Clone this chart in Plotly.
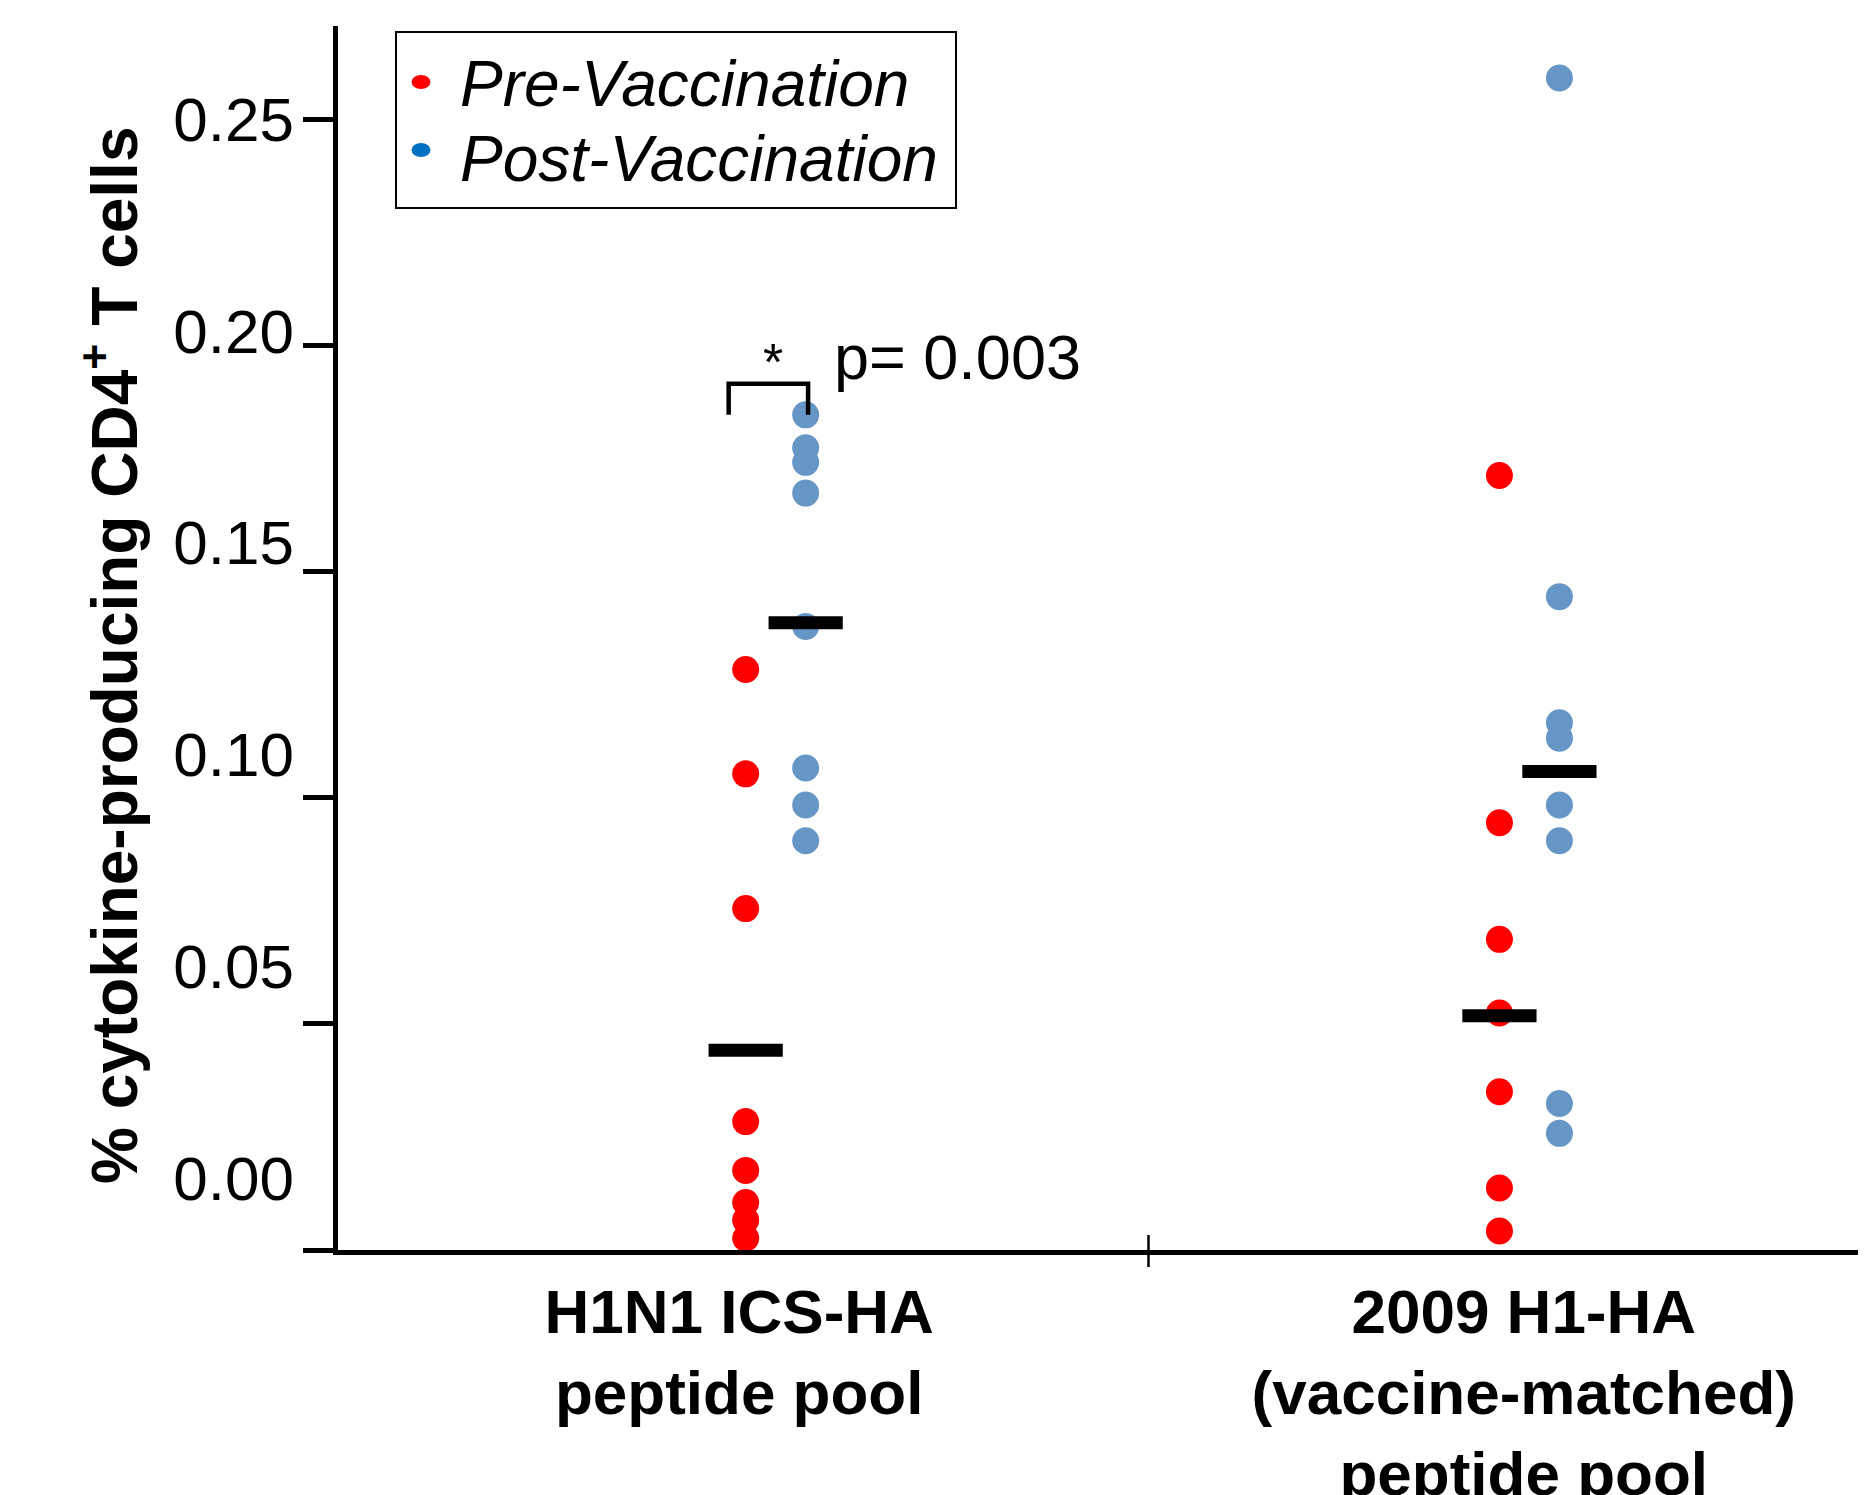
import plotly.graph_objects as go

# ---------------- data ----------------
categories = ["H1N1 ICS-HA<br>peptide pool",
              "2009 H1-HA<br>(vaccine-matched)<br>peptide pool"]
series_names = ["Pre-Vaccination", "Post-Vaccination"]

h1n1_pre = [0.1284, 0.1053, 0.0755, 0.0284, 0.0176, 0.0105, 0.0066, 0.0026]
h1n1_post = [0.1847, 0.1774, 0.1742, 0.1674, 0.1379, 0.1066, 0.0984, 0.0905]
h2009_pre = [0.1713, 0.0945, 0.0687, 0.0524, 0.0350, 0.0137, 0.0042]
h2009_post = [0.2592, 0.1445, 0.1166, 0.1132, 0.0984, 0.0905, 0.0324, 0.0258]

pre_centre = [0.0442, 0.0518]    # horizontal bars, pre
post_centre = [0.1387, 0.1058]   # horizontal bars, post

y_ticks = [0.00, 0.05, 0.10, 0.15, 0.20, 0.25]
p_value_text = "p= 0.003"

# ---------------- layout geometry ----------------
W, H = 1866, 1495
BODY = 8                      # default page margin around the plot div
ML, MR, MT, MB = 330, 0, 18, 253
PW, PH = W - ML - MR, H - MT - MB

def px_x(px):                 # page pixel -> paper
    return (px - BODY - ML) / PW

def px_y(py):
    return (H - MB - (py - BODY)) / PH

group_x = [0.540, 1.470]
label_x = [0.495, 1.463]
offset = 0.037

RED = "#FF0000"
BLUE = "#6596C6"
LEG_BLUE = "#0070C0"
FONT = "Liberation Sans, Arial, sans-serif"

fig = go.Figure()

pre_groups = [h1n1_pre, h2009_pre]
post_groups = [h1n1_post, h2009_post]

for gi in range(2):
    xp = group_x[gi] - offset
    xq = group_x[gi] + offset
    fig.add_trace(go.Scatter(
        x=[xp] * len(pre_groups[gi]), y=pre_groups[gi], mode="markers",
        marker=dict(color=RED, size=27, line=dict(width=0)),
        name=series_names[0], showlegend=False, cliponaxis=False))
    fig.add_trace(go.Scatter(
        x=[xq] * len(post_groups[gi]), y=post_groups[gi], mode="markers",
        marker=dict(color=BLUE, size=27, line=dict(width=0)),
        name=series_names[1], showlegend=False, cliponaxis=False))
    # central tendency bars
    fig.add_trace(go.Scatter(
        x=[xp, xq], y=[pre_centre[gi], post_centre[gi]], mode="markers",
        marker=dict(symbol="line-ew", size=53, color="black",
                    line=dict(width=13, color="black")),
        showlegend=False, cliponaxis=False, hoverinfo="skip"))

# significance bracket (derived from the H1N1 groups)
top = max(h1n1_post)
bx0 = group_x[0] - offset - 0.021
bx1 = group_x[0] + offset + 0.003
fig.add_trace(go.Scatter(
    x=[bx0, bx0, bx1, bx1], y=[top, top + 0.0069, top + 0.0069, top],
    mode="lines", line=dict(color="black", width=4.5),
    showlegend=False, hoverinfo="skip", cliponaxis=False))

# dummy trace to hold the label axis
fig.add_trace(go.Scatter(x=[None], y=[None], yaxis="y2", showlegend=False,
                         hoverinfo="skip"))

fig.add_annotation(x=(bx0 + bx1) / 2 + 0.006, y=top + 0.0069, xref="x", yref="y",
                   text="*", showarrow=False, yanchor="bottom",
                   font=dict(family=FONT, size=52, color="black"), yshift=-9)
fig.add_annotation(x=0.6095, y=0.1975, xref="x", yref="y", text=p_value_text,
                   showarrow=False, xanchor="left", yanchor="middle",
                   font=dict(family=FONT, size=63, color="black"))

# y-axis title
fig.add_annotation(x=px_x(110), y=px_y(656), xref="paper", yref="paper",
                   text="% cytokine-producing CD4<sup>+</sup> T cells",
                   textangle=-90, showarrow=False, xanchor="center", yanchor="middle",
                   font=dict(family=FONT, size=64, color="black", weight="bold"))

# category divider tick
fig.add_shape(type="line", xref="x", yref="paper", x0=1, x1=1,
              y0=px_y(1235), y1=px_y(1267), line=dict(color="black", width=2.5))

# manual legend
fig.add_shape(type="rect", xref="paper", yref="paper",
              x0=px_x(396), x1=px_x(956), y0=px_y(208), y1=px_y(32),
              line=dict(color="black", width=2), fillcolor="white", layer="below")
for name, col, cy in [(series_names[0], RED, 82), (series_names[1], LEG_BLUE, 150)]:
    fig.add_shape(type="circle", xref="paper", yref="paper",
                  xsizemode="pixel", ysizemode="pixel",
                  xanchor=px_x(421), yanchor=px_y(cy),
                  x0=-9.5, x1=9.5, y0=-7, y1=7,
                  line=dict(width=0), fillcolor=col)
for name, cy in [(series_names[0], 84), (series_names[1], 159)]:
    fig.add_annotation(x=px_x(458), y=px_y(cy), xref="paper", yref="paper",
                       text=name, showarrow=False, xanchor="left", yanchor="middle",
                       font=dict(family=FONT, size=64, color="black", style="italic"))

fig.update_layout(
    width=W, height=H,
    margin=dict(l=ML, r=MR, t=MT, b=MB, pad=0, autoexpand=False),
    paper_bgcolor="white", plot_bgcolor="white",
    showlegend=False,
    xaxis=dict(range=[0, (W - ML) / 810.5], showgrid=False, zeroline=False,
               showline=True, linecolor="black", linewidth=4.8,
               tickvals=label_x, ticktext=categories, ticks="",
               tickfont=dict(family=FONT, size=62, color="black", weight="bold"),
               ticklabelstandoff=4, automargin=False),
    yaxis=dict(range=[0, 0.2707], showgrid=False, zeroline=False,
               showline=True, linecolor="black", linewidth=4.8,
               tickvals=y_ticks, ticks="outside", ticklen=30, tickwidth=4.5,
               tickcolor="black", showticklabels=False, automargin=False),
    yaxis2=dict(range=[-0.0170, 0.2720], overlaying="y", side="left",
                showgrid=False, zeroline=False, showline=False, ticks="",
                tickvals=y_ticks, tickformat=".2f",
                tickfont=dict(family=FONT, size=62, color="black"),
                ticklabelstandoff=43, automargin=False),
)

fig.write_html("out.html")
